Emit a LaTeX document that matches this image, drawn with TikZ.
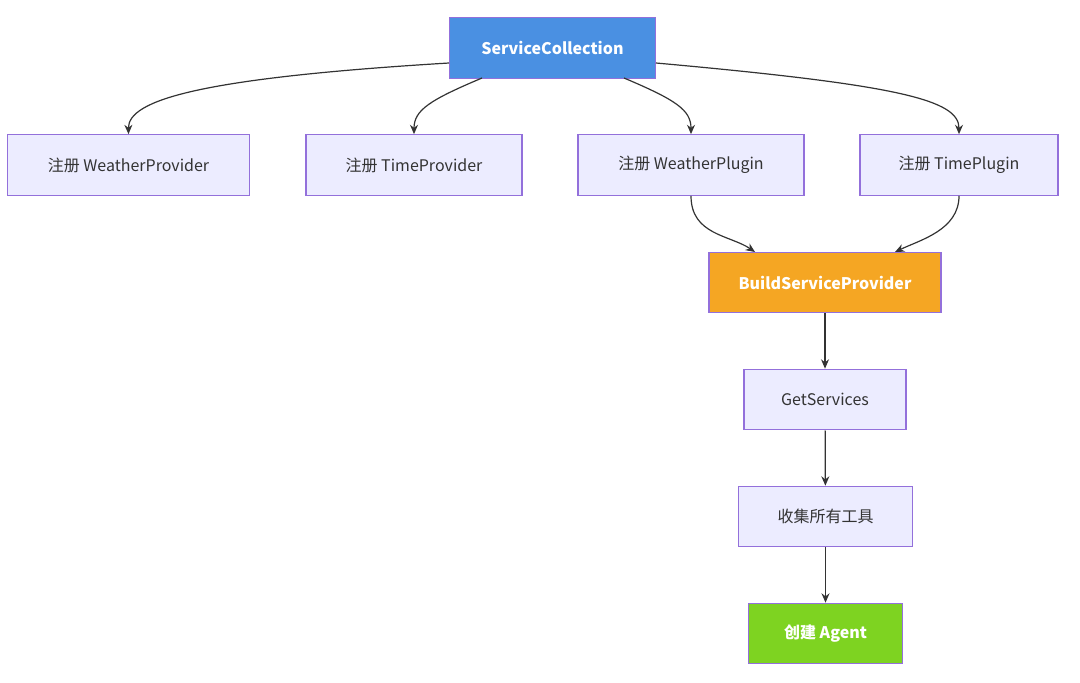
\documentclass[tikz,border=0pt]{standalone}
\usepackage{fontspec}
\setmainfont{Noto Sans CJK SC}
\usetikzlibrary{arrows.meta}
\definecolor{boxfill}{HTML}{ECECFF}
\definecolor{boxline}{HTML}{9370DB}
\definecolor{txt}{HTML}{333333}
\definecolor{blue1}{HTML}{4A90E2}
\definecolor{orange1}{HTML}{F5A623}
\definecolor{green1}{HTML}{7ED321}
\begin{document}
\begin{tikzpicture}[x=0.75pt,y=-0.75pt,
 box/.style={draw=boxline,fill=boxfill,text=txt,line width=0.8pt,minimum height=45.5pt,inner sep=0pt,font=\fontsize{12}{14}\selectfont},
 hl/.style={box,text=white,font=\fontsize{12}{14}\selectfont\bfseries},
 conn/.style={draw=txt,line width=0.9pt,-{Stealth[length=7pt,width=6pt]}}]
\useasboundingbox (0,0) rectangle (1080,682);
\node[hl,fill=blue1,minimum width=155pt] (sc) at (552.5,48) {ServiceCollection};
\node[box,minimum width=182pt] (wp) at (128.5,165) {注册 WeatherProvider};
\node[box,minimum width=162pt] (tp) at (414,165) {注册 TimeProvider};
\node[box,minimum width=169.5pt] (wpl) at (691,165) {注册 WeatherPlugin};
\node[box,minimum width=148.5pt] (tpl) at (959,165) {注册 TimePlugin};
\node[hl,fill=orange1,minimum width=174pt] (bsp) at (825,282.5) {BuildServiceProvider};
\node[box,minimum width=121.5pt] (gs) at (825,399.5) {GetServices};
\node[box,minimum width=131pt] (col) at (825.5,516.5) {收集所有工具};
\node[hl,fill=green1,minimum width=116pt] (ag) at (825.5,633.5) {创建 Agent};
\coordinate (s1) at (449,63);
\coordinate (s2) at (482,78);
\coordinate (s3) at (624,78);
\coordinate (s4) at (656,63);
\draw[conn] (s1) .. controls (200,78) and (128,100) .. (wp.north);
\draw[conn] (s2) .. controls (430,100) and (414,110) .. (tp.north);
\draw[conn] (s3) .. controls (676,100) and (691,110) .. (wpl.north);
\draw[conn] (s4) .. controls (900,85) and (959,100) .. (tpl.north);
\draw[conn] (wpl.south) .. controls (691,235) and (730,235) .. (755,252);
\draw[conn] (tpl.south) .. controls (959,230) and (920,240) .. (895,252);
\draw[conn] (bsp) -- (gs);
\draw[conn] (gs) -- (col);
\draw[conn] (col) -- (ag);
\end{tikzpicture}
\end{document}
